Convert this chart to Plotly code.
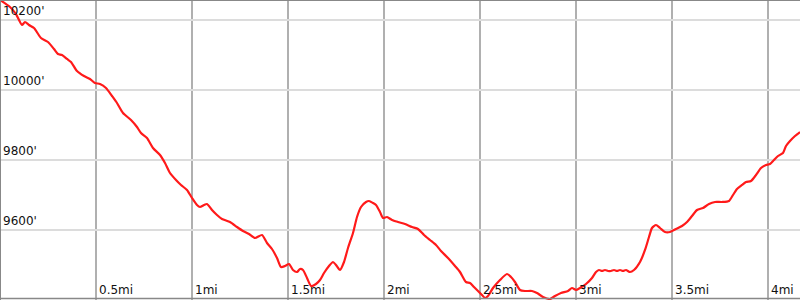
import plotly.graph_objects as go

# pixel-read profile: distance (px/192 = miles) and elevation
px_x = [0, 10, 16, 22, 25, 29, 34, 41, 48, 54, 58, 62, 67, 71, 77, 84, 90, 95, 100, 106,
        112, 117, 123, 131, 137, 141, 147, 153, 160, 165, 170, 176, 181, 187, 192, 197, 200,
        204, 207, 212, 217, 222, 230, 237, 243, 249, 255, 262, 267, 272, 277, 281, 285, 289,
        293, 297, 300, 303, 307, 311, 316, 320, 324, 329, 333, 336, 340, 344, 348, 353, 357,
        361, 366, 369, 373, 376, 380, 383, 387, 392, 398, 405, 412, 418, 424, 430, 436, 441,
        448, 455, 460, 466, 470, 474, 478, 482, 485, 488, 493, 500, 507, 511, 515, 520, 525,
        532, 537, 543, 550, 555, 561, 568, 572, 576, 580, 586, 592, 596, 599, 602, 605, 608,
        611, 614, 617, 620, 623, 626, 630, 634, 640, 645, 649, 652, 656, 660, 665, 670, 676,
        682, 687, 692, 697, 703, 709, 715, 722, 729, 733, 737, 742, 746, 751, 756, 761, 766,
        770, 774, 778, 783, 786, 790, 795, 800]
px_y = [0, 7, 14, 25, 22, 25, 28, 38, 42, 49, 54, 55, 59, 62, 71, 76, 79, 83, 84, 88,
        96, 103, 113, 120, 127, 133, 138, 148, 155, 163, 173, 180, 185, 190, 198, 205, 207,
        205, 204, 210, 215, 219, 222, 227, 231, 234, 238, 235, 243, 249, 258, 267, 266, 264,
        270, 272, 269, 270, 278, 286, 284, 280, 273, 266, 262, 265, 270, 262, 248, 233, 217,
        207, 202, 201, 203, 205, 212, 218, 217, 220, 222, 224, 227, 229, 235, 240, 245, 251,
        258, 266, 272, 282, 283, 287, 291, 295, 298, 296, 288, 280, 274, 277, 282, 290, 291,
        291, 293, 297, 299, 296, 293, 291, 288, 290, 288, 284, 278, 272, 270, 271, 270, 271,
        271, 270, 271, 270, 271, 270, 272, 270, 262, 250, 237, 228, 225, 228, 232, 232, 229,
        226, 222, 216, 210, 208, 204, 202, 202, 201, 195, 189, 185, 182, 181, 175, 168, 165,
        164, 160, 156, 153, 146, 141, 136, 132]

miles = [v / 192 for v in px_x]
elevation = [round(10200 - (v - 20) / 0.35, 1) for v in px_y]

x_ticks = [0.5, 1, 1.5, 2, 2.5, 3, 3.5, 4]
x_labels = ["0.5mi", "1mi", "1.5mi", "2mi", "2.5mi", "3mi", "3.5mi", "4mi"]
y_ticks = [9600, 9800, 10000, 10200]
y_labels = ["9600'", "9800'", "10000'", "10200'"]

fig = go.Figure()
fig.add_trace(go.Scatter(x=miles, y=elevation, mode="lines",
                         line=dict(color="#ff1a1a", width=2.2, shape="spline", smoothing=0.6),
                         hoverinfo="skip"))

annotations = []
for v, t in zip(x_ticks, x_labels):
    annotations.append(dict(x=v, y=0, xref="x", yref="paper", text=t, showarrow=False,
                            xanchor="left", yanchor="bottom", xshift=1, yshift=1,
                            font=dict(family="DejaVu Sans", size=12, color="#111")))
for v, t in zip(y_ticks, y_labels):
    annotations.append(dict(x=0, y=v, xref="paper", yref="y", text=t, showarrow=False,
                            xanchor="left", yanchor="bottom", xshift=1, yshift=0,
                            font=dict(family="DejaVu Sans", size=12, color="#111")))

shapes = [
    dict(type="line", xref="paper", yref="paper", x0=0, x1=1, y0=1, y1=1,
         line=dict(color="#888", width=2)),
    dict(type="line", xref="paper", yref="paper", x0=0, x1=0, y0=0, y1=1,
         line=dict(color="#888", width=2)),
    dict(type="line", xref="paper", yref="paper", x0=0, x1=1, y0=0.005, y1=0.005,
         line=dict(color="#888", width=1.5)),
]

fig.update_layout(
    width=800, height=300, margin=dict(l=0, r=0, t=0, b=0),
    paper_bgcolor="white", plot_bgcolor="white", showlegend=False,
    annotations=annotations, shapes=shapes,
    xaxis=dict(range=[0, 800 / 192], tickvals=x_ticks, showticklabels=False,
               showgrid=True, gridcolor="#b0b0b0", gridwidth=1.5, zeroline=False,
               showline=False, fixedrange=True),
    yaxis=dict(range=[9400, 10200 + 20 / 0.35], tickvals=y_ticks, showticklabels=False,
               showgrid=True, gridcolor="#dcdcdc", gridwidth=1.5, zeroline=False,
               showline=False, fixedrange=True),
)

fig.write_html("out.html")
